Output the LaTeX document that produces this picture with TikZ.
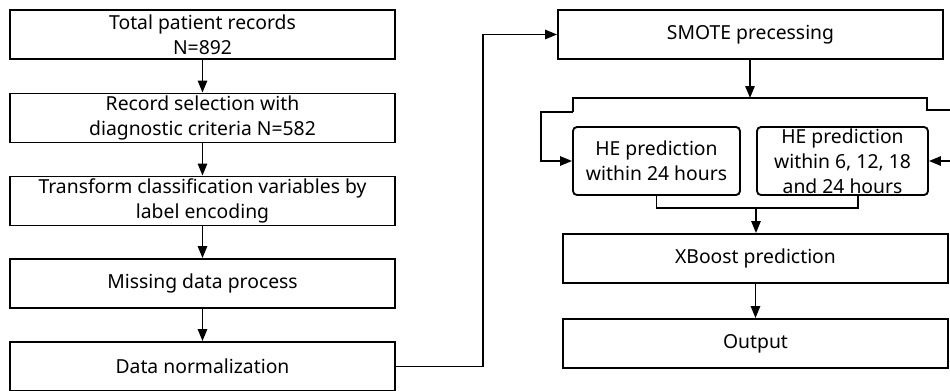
\documentclass[tikz,border=0pt]{standalone}
\usepackage{fontspec}
\setmainfont{Noto Sans}
\usetikzlibrary{arrows.meta}
\tikzset{
  box/.style={draw, line width=1.4pt, minimum width=288.75pt, minimum height=36.75pt,
    align=center, inner sep=0pt, font=\fontsize{14.5}{18.75}\selectfont},
  hebox/.style={box, rounded corners=3pt, minimum height=51pt},
  arr/.style={-{Triangle[length=9pt,width=7pt]}, line width=1.4pt},
  link/.style={line width=1.4pt}
}
\begin{document}
\begin{tikzpicture}[x=0.75pt,y=-0.75pt]
\useasboundingbox (0,0) rectangle (950,390);
\clip (0,0) rectangle (950,390);
% left column
\node[box] (total) at (202.5,34.5) {Total patient records\\N=892};
\node[box] (select) at (202.5,118) {Record selection with\\diagnostic criteria N=582};
\node[box] (encode) at (202.5,201) {Transform classification variables by\\label encoding};
\node[box] (missing) at (202.5,283.5) {Missing data process};
\node[box] (norm) at (202.5,366.5) {Data normalization};
\draw[arr] (total) -- (select);
\draw[arr] (select) -- (encode);
\draw[arr] (encode) -- (missing);
\draw[arr] (missing) -- (norm);
% right column
\node[box] (smote) at (750.5,34.5) {SMOTE precessing};
\node[hebox, minimum width=125.25pt] (he1) at (656.5,161) {HE prediction\\within 24 hours};
\node[hebox, minimum width=128.25pt] (he2) at (842.5,161) {HE prediction\\within 6, 12, 18\\and 24 hours};
\node[box] (xboost) at (755.5,258.5) {XBoost prediction};
\node[box] (output) at (755.5,343.5) {Output};
\coordinate (split) at (750,98);
\coordinate (join) at (756,208);
\draw[arr] (norm.east) -- (483,366.5) |- (smote.west);
\draw[arr] (smote.south -| split) -- (split);
\draw[link] (573,112) -- (573,98) -- (927,98) -- (927,110) -- (965,110) -- (965,161);
\draw[arr] (573,112) -- (541,112) |- (he1.west);
\draw[arr] (965,161) -- (he2.east);
\draw[link] (he1.south) |- (join) -| (858,195);
\draw[arr] (join) -- (xboost.north -| join);
\draw[arr] (xboost) -- (output);
\end{tikzpicture}
\end{document}
